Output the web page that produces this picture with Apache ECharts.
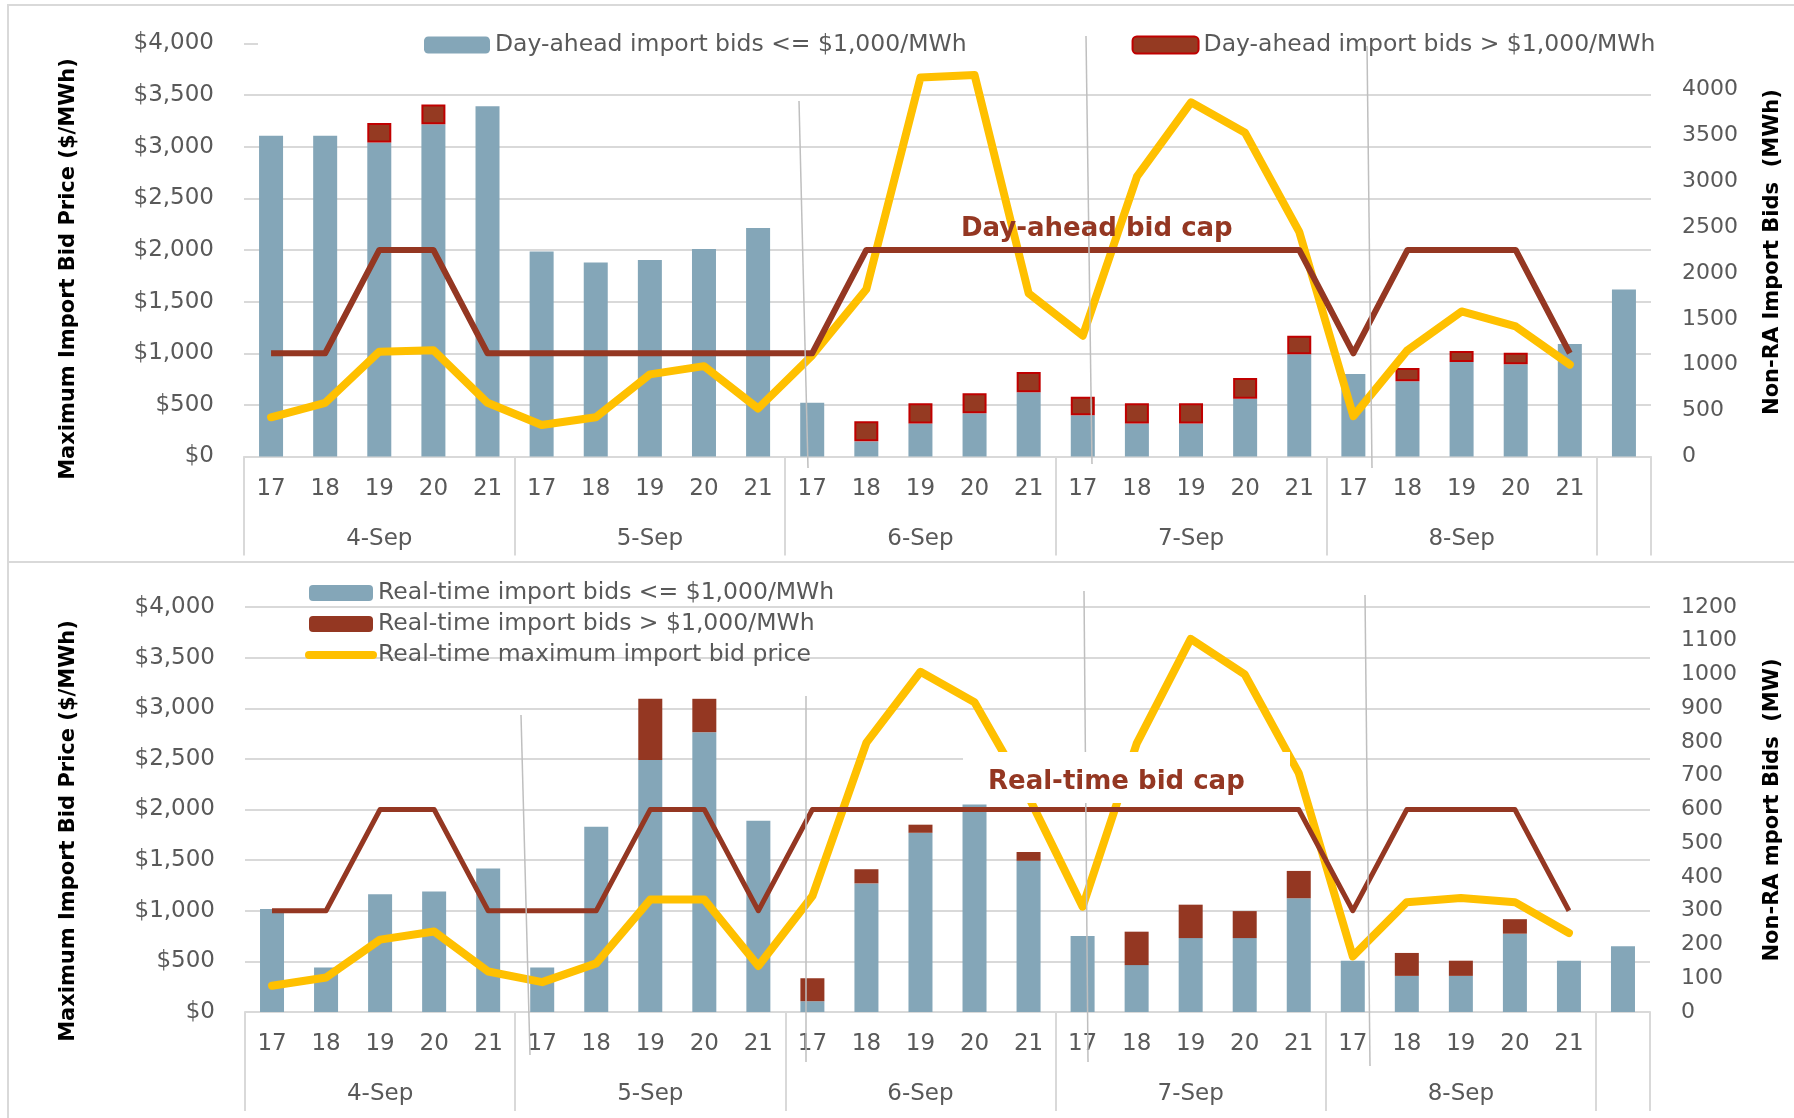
<!DOCTYPE html>
<html><head><meta charset="utf-8">
<script src="https://cdn.jsdelivr.net/npm/echarts@6/dist/echarts.min.js"></script>
<style>html,body{margin:0;padding:0;background:#fff}#c{width:1794px;height:1118px}</style>
</head><body><div id="c"></div>
<script>
// ---- data ----
const dates = ['4-Sep', '5-Sep', '6-Sep', '7-Sep', '8-Sep'];
const hours = ['17', '18', '19', '20', '21'];

// Day-ahead (top chart)
const daBelow = [3495, 3495, 3420, 3620, 3815, 2235, 2115, 2140, 2260, 2490, 585, 165, 360, 470, 700, 450, 360, 360, 630, 1115, 900, 820, 1030, 1005, 1225, 1820];
const daAbove = [null, null, 215, 215, null, null, null, null, null, null, null, 220, 220, 220, 220, 200, 220, 220, 225, 200, null, 145, 120, 125, null, null];
const daCap = [1000, 1000, 2000, 2000, 1000, 1000, 1000, 1000, 1000, 1000, 1000, 2000, 2000, 2000, 2000, 2000, 2000, 2000, 2000, 2000, 1000, 2000, 2000, 2000, 1000, null];
const daMax = [380, 520, 1015, 1030, 520, 305, 380, 795, 875, 465, 980, 1620, 3670, 3695, 1580, 1170, 2710, 3430, 3135, 2175, 390, 1030, 1405, 1260, 890, null];

// Real-time (bottom chart)
const rtBelow = [305, 132, 349, 357, 425, 132, 549, 747, 829, 567, 32, 381, 531, 615, 448, 225, 139, 219, 219, 337, 152, 107, 107, 232, 152, 195];
const rtAbove = [null, null, null, null, null, null, null, 181, 99, null, 68, 42, 24, null, 26, null, 99, 99, 80, 81, null, 68, 45, 43, null, null];
const rtCap = [1000, 1000, 2000, 2000, 1000, 1000, 1000, 2000, 2000, 1000, 2000, 2000, 2000, 2000, 2000, 2000, 2000, 2000, 2000, 2000, 1000, 2000, 2000, 2000, 1000, null];
const rtMax = [260, 340, 715, 795, 400, 295, 480, 1110, 1110, 455, 1145, 2660, 3360, 3060, 2125, 1040, 2650, 3685, 3335, 2360, 550, 1085, 1125, 1085, 780, null];

const leftTicks = {min: 0, max: 4000, interval: 500};

// ---- categories ----
const hourCats = [], dateCats = [];
dates.forEach(d => hours.forEach((h, i) => { hourCats.push(h); dateCats.push(i === 2 ? d : ''); }));
hourCats.push(''); dateCats.push('');

const FONT = '"DejaVu Sans", sans-serif';
const GRAY = '#595959', GRID = '#D9D9D9';
const BLUE = '#84A6B8', BROWN = '#943722', YELLOW = '#FFC000';

function xAxes(grid) {
  return [
    {type: 'category', gridIndex: grid, data: hourCats, position: 'bottom',
     axisLine: {lineStyle: {color: GRID, width: 2}},
     axisTick: {show: true, length: 99, interval: (i) => i % 5 === 0, lineStyle: {color: GRID, width: 2}},
     axisLabel: {interval: 0, fontSize: 23, fontFamily: FONT, color: GRAY, margin: 21}},
    {type: 'category', gridIndex: grid, data: dateCats, position: 'bottom',
     axisLine: {show: false}, axisTick: {show: false},
     axisLabel: {interval: 0, fontSize: 23, fontFamily: FONT, color: GRAY, margin: 71}}
  ];
}
function leftY(grid) {
  return {type: 'value', gridIndex: grid, position: 'left', min: leftTicks.min, max: leftTicks.max, interval: leftTicks.interval,
    axisLine: {show: false}, axisTick: {show: false},
    splitLine: {lineStyle: {color: GRID, width: 2}},
    axisLabel: {fontSize: 23, fontFamily: FONT, color: GRAY, margin: 30,
      formatter: v => '$' + v.toLocaleString('en-US')}};
}
function rightY(grid, max, interval) {
  return {type: 'value', gridIndex: grid, position: 'right', min: 0, max: max, interval: interval,
    axisLine: {show: false}, axisTick: {show: false}, splitLine: {show: false},
    axisLabel: {fontSize: 22, fontFamily: FONT, color: GRAY, margin: 31, showMaxLabel: max === 1200,
      formatter: v => String(v)}};
}

const option = {
  animation: false,
  backgroundColor: '#fff',
  grid: [
    {left: 244, top: 43.5, width: 1407, height: 413},
    {left: 245, top: 607, width: 1405, height: 405}
  ],
  xAxis: [...xAxes(0), ...xAxes(1)],
  yAxis: [leftY(0), rightY(0, 4500, 500), leftY(1), rightY(1, 1200, 100)],
  legend: [
    {left: 424, top: 33, itemWidth: 66, itemHeight: 17, itemGap: 165, padding: 0, selectedMode: false,
     textStyle: {fontSize: 23.5, fontFamily: FONT, color: GRAY},
     data: ['Day-ahead import bids <= $1,000/MWh', 'Day-ahead import bids > $1,000/MWh']},
    {left: 305, top: 581, orient: 'vertical', itemWidth: 64, itemHeight: 16, itemGap: 7, padding: 0, selectedMode: false,
     textStyle: {fontSize: 23.5, fontFamily: FONT, color: GRAY},
     data: ['Real-time import bids <= $1,000/MWh', 'Real-time import bids > $1,000/MWh',
       {name: 'Real-time maximum import bid price', itemStyle: {opacity: 0},
        lineStyle: {width: 8, cap: 'round', color: YELLOW}}]}
  ],
  series: [
    {name: 'Day-ahead import bids <= $1,000/MWh', type: 'bar', xAxisIndex: 0, yAxisIndex: 1, stack: 'da', barWidth: 24,
     itemStyle: {color: BLUE}, data: daBelow},
    {name: 'Day-ahead import bids > $1,000/MWh', type: 'bar', xAxisIndex: 0, yAxisIndex: 1, stack: 'da', barWidth: 24,
     itemStyle: {color: '#953A22', borderColor: '#C00000', borderWidth: 2}, data: daAbove},
    {name: 'Day-ahead maximum import bid price', type: 'line', xAxisIndex: 0, yAxisIndex: 0, symbol: 'none',
     lineStyle: {color: YELLOW, width: 8, cap: 'round', join: 'round'}, itemStyle: {color: YELLOW}, data: daMax},
    {name: 'Day-ahead bid cap', type: 'line', xAxisIndex: 0, yAxisIndex: 0, symbol: 'none',
     lineStyle: {color: BROWN, width: 6, join: 'round'}, itemStyle: {color: BROWN}, data: daCap},

    {name: 'Real-time import bids <= $1,000/MWh', type: 'bar', xAxisIndex: 2, yAxisIndex: 3, stack: 'rt', barWidth: 24,
     itemStyle: {color: BLUE}, data: rtBelow},
    {name: 'Real-time import bids > $1,000/MWh', type: 'bar', xAxisIndex: 2, yAxisIndex: 3, stack: 'rt', barWidth: 24,
     itemStyle: {color: BROWN}, data: rtAbove},
    {name: 'Real-time maximum import bid price', type: 'line', xAxisIndex: 2, yAxisIndex: 2, symbol: 'none',
     lineStyle: {color: YELLOW, width: 8, cap: 'round', join: 'round'}, itemStyle: {color: YELLOW}, data: rtMax},
    {name: 'Real-time bid cap', type: 'line', xAxisIndex: 2, yAxisIndex: 2, symbol: 'none',
     lineStyle: {color: BROWN, width: 5, join: 'round'}, itemStyle: {color: BROWN}, data: rtCap}
  ],
  graphic: [
    // panel frames
    {type: 'rect', z: 0, silent: true, shape: {x: 8, y: 5, width: 1800, height: 557}, style: {fill: null, stroke: GRID, lineWidth: 2}},
    {type: 'rect', z: 0, silent: true, shape: {x: 8, y: 562, width: 1800, height: 600}, style: {fill: null, stroke: GRID, lineWidth: 2}},
    // top gridline hidden behind legend area
    {type: 'rect', z: 1, silent: true, shape: {x: 258, y: 39, width: 1402, height: 9}, style: {fill: '#fff'}},
    // hand-drawn separator lines
    {type: 'line', z: 50, silent: true, shape: {x1: 799, y1: 101, x2: 808, y2: 468}, style: {stroke: '#BFBFBF', lineWidth: 1.5}},
    {type: 'line', z: 50, silent: true, shape: {x1: 1086, y1: 36, x2: 1092, y2: 464}, style: {stroke: '#BFBFBF', lineWidth: 1.5}},
    {type: 'line', z: 50, silent: true, shape: {x1: 1367, y1: 46, x2: 1372, y2: 468}, style: {stroke: '#BFBFBF', lineWidth: 1.5}},
    {type: 'line', z: 50, silent: true, shape: {x1: 521, y1: 715, x2: 530, y2: 1055}, style: {stroke: '#BFBFBF', lineWidth: 1.5}},
    {type: 'line', z: 50, silent: true, shape: {x1: 806, y1: 696, x2: 806, y2: 1062}, style: {stroke: '#BFBFBF', lineWidth: 1.5}},
    {type: 'line', z: 50, silent: true, shape: {x1: 1084, y1: 591, x2: 1088, y2: 1062}, style: {stroke: '#BFBFBF', lineWidth: 1.5}},
    {type: 'line', z: 50, silent: true, shape: {x1: 1365, y1: 595, x2: 1370, y2: 1066}, style: {stroke: '#BFBFBF', lineWidth: 1.5}},
    // white label box (real-time)
    {type: 'rect', z: 60, silent: true, shape: {x: 963, y: 752, width: 327, height: 51}, style: {fill: '#fff'}},
    // cap labels
    {type: 'text', z: 70, silent: true, x: 961, y: 229,
     style: {text: 'Day-ahead bid cap', font: 'bold 26px ' + FONT, fill: BROWN, align: 'left', verticalAlign: 'middle'}},
    {type: 'text', z: 70, silent: true, x: 988, y: 782,
     style: {text: 'Real-time bid cap', font: 'bold 26px ' + FONT, fill: BROWN, align: 'left', verticalAlign: 'middle'}},
    // axis titles
    {type: 'text', z: 70, silent: true, x: 69, y: 269, rotation: Math.PI / 2,
     style: {text: 'Maximum Import Bid Price ($/MWh)', font: 'bold 21px ' + FONT, fill: '#000', align: 'center', verticalAlign: 'middle'}},
    {type: 'text', z: 70, silent: true, x: 1773, y: 252, rotation: Math.PI / 2,
     style: {text: 'Non-RA Import Bids  (MWh)', font: 'bold 21px ' + FONT, fill: '#000', align: 'center', verticalAlign: 'middle'}},
    {type: 'text', z: 70, silent: true, x: 69, y: 831, rotation: Math.PI / 2,
     style: {text: 'Maximum Import Bid Price ($/MWh)', font: 'bold 21px ' + FONT, fill: '#000', align: 'center', verticalAlign: 'middle'}},
    {type: 'text', z: 70, silent: true, x: 1773, y: 810, rotation: Math.PI / 2,
     style: {text: 'Non-RA mport Bids  (MW)', font: 'bold 21px ' + FONT, fill: '#000', align: 'center', verticalAlign: 'middle'}}
  ]
};
const chart = echarts.init(document.getElementById('c'), null, {renderer: 'canvas'});
chart.setOption(option);
</script></body></html>
